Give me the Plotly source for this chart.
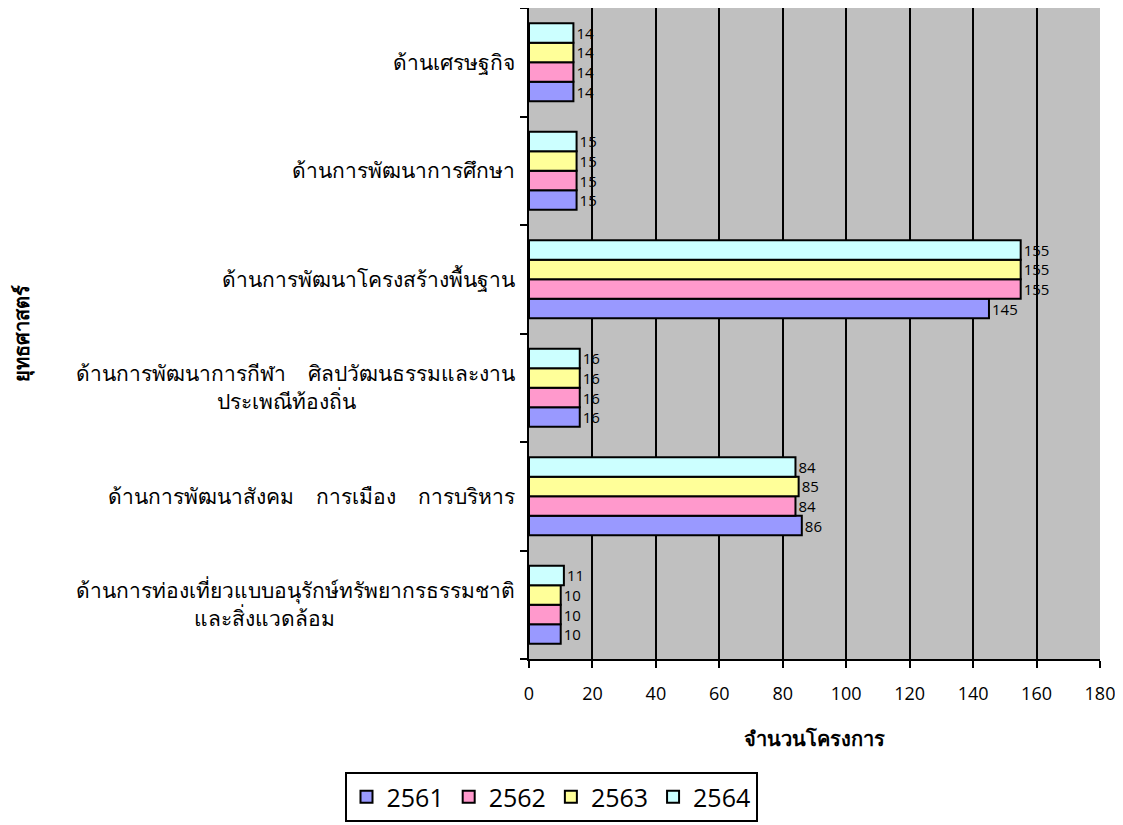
import plotly.graph_objects as go

categories = [
    "ด้านการท่องเที่ยวแบบอนุรักษ์ทรัพยากรธรรมชาติ<br>และสิ่งแวดล้อม",
    "ด้านการพัฒนาสังคม   การเมือง   การบริหาร",
    "ด้านการพัฒนาการกีฬา   ศิลปวัฒนธรรมและงาน<br>ประเพณีท้องถิ่น",
    "ด้านการพัฒนาโครงสร้างพื้นฐาน",
    "ด้านการพัฒนาการศึกษา",
    "ด้านเศรษฐกิจ",
]
years = ["2561", "2562", "2563", "2564"]
v2561 = [10, 86, 16, 145, 15, 14]
v2562 = [10, 84, 16, 155, 15, 14]
v2563 = [10, 85, 16, 155, 15, 14]
v2564 = [11, 84, 16, 155, 15, 14]
x_ticks = [0, 20, 40, 60, 80, 100, 120, 140, 160, 180]
x_title = "จำนวนโครงการ"
y_title = "ยุทธศาสตร์"

series = [v2561, v2562, v2563, v2564]
colors = ["#9999FF", "#FF99CC", "#FFFF99", "#CCFFFF"]

NB = "\u00a0"

# Excel centres wrapped labels; SVG tick labels are right-aligned, so pad the
# second line with non-breaking spaces to push it toward the centre.
def fix_label(s):
    s = s.replace("   ", NB * 4)
    parts = s.split("<br>")
    if len(parts) == 2:
        a, b = parts
        pad = max(0, int(round((len(a) - len(b)) * 1.1)))
        return a + "<br>" + b + NB * pad
    return s

labels = [fix_label(c) for c in categories]

num_font = "'Open Sans', 'Noto Sans', sans-serif"

fig = go.Figure()
for name, vals, col in zip(years, series, colors):
    fig.add_trace(go.Bar(
        y=labels, x=vals, name=name, orientation="h",
        marker=dict(color=col, line=dict(color="black", width=2)),
        text=[str(v) for v in vals], textposition="outside",
        constraintext="none",
        textfont=dict(size=15, color="black", family=num_font),
        cliponaxis=False,
    ))

# the page adds an 8px body margin, so the figure is drawn 8px smaller/shifted
W, H = 1115, 817
fig.update_layout(
    width=W, height=H,
    margin=dict(l=521, r=23, t=0, b=166),
    paper_bgcolor="white", plot_bgcolor="#C0C0C0",
    barmode="group", bargap=0.28, bargroupgap=0,
    font=dict(family="Tahoma, 'Noto Sans', sans-serif", color="black"),
    uniformtext=dict(mode=False),
    legend=dict(
        orientation="h", traceorder="normal",
        xref="container", yref="container",
        x=543 / W, xanchor="center", y=1 - 764 / H, yanchor="top",
        bordercolor="black", borderwidth=2,
        font=dict(size=25, color="black", family=num_font),
        itemwidth=30, tracegroupgap=0,
    ),
    showlegend=True,
)
fig.update_xaxes(
    range=[0, 180], tickvals=x_ticks,
    showgrid=True, gridcolor="black", gridwidth=2,
    showline=True, linecolor="black", linewidth=2,
    ticks="outside", ticklen=7, tickwidth=2, tickcolor="black",
    tickfont=dict(size=18, family=num_font), zeroline=False,
    ticklabelstandoff=10,
    title=dict(text="<b>" + x_title + "</b>", font=dict(size=20), standoff=28),
)
fig.update_yaxes(
    type="category", categoryorder="array", categoryarray=labels,
    showline=True, linecolor="black", linewidth=2,
    ticks="outside", ticklen=7, tickwidth=2, tickcolor="black",
    tickson="boundaries", tickfont=dict(size=21),
    ticklabelstandoff=8,
    showgrid=False, automargin=False,
    title=dict(text="<b>" + y_title + "</b>", font=dict(size=20), standoff=468),
)
fig.write_html("out.html")
